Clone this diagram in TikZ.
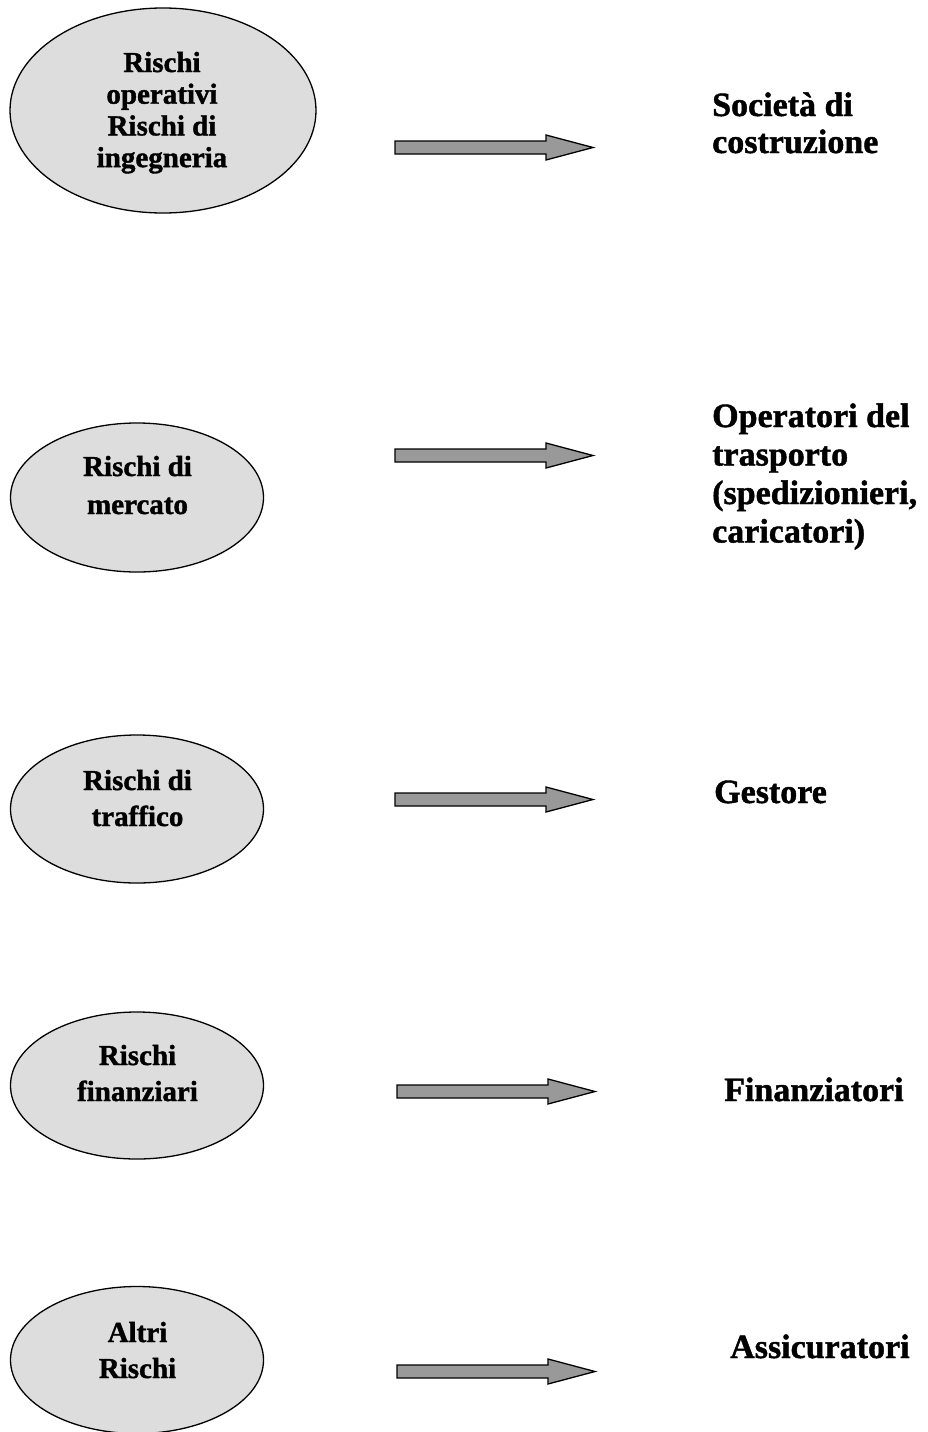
\documentclass[tikz,border=0pt]{standalone}
\usepackage{fontspec}
\setmainfont{Liberation Serif}[BoldFeatures={FakeBold=1.3}]
\definecolor{ellfill}{HTML}{DDDDDD}
\definecolor{arrfill}{HTML}{999999}
\tikzset{
  riskell/.style={ellipse, draw=black, line width=1.3pt, fill=ellfill, inner sep=0pt},
  risktext/.style={anchor=base, inner sep=0pt, font=\bfseries},
  partytext/.style={anchor=base west, inner sep=0pt, font=\bfseries\fontsize{34}{38.5}\selectfont},
  blockarrow/.pic={
    \draw[line width=1.3pt, fill=arrfill, line join=miter]
      (0,-6.5) -- (151,-6.5) -- (151,-12.5) -- (198,0) -- (151,12.5) -- (151,6.5) -- (0,6.5) -- cycle;
  }
}
\usetikzlibrary{shapes.geometric}
\newcommand{\lines}[1]{\begin{tabular}[t]{@{}c@{}}#1\end{tabular}}
\newcommand{\llines}[1]{\begin{tabular}[t]{@{}l@{}}#1\end{tabular}}
\begin{document}
\begin{tikzpicture}[x=1pt,y=-1pt]
\useasboundingbox (0,0) rectangle (927,1432);

% ellipses
\node[riskell, minimum width=306pt, minimum height=205pt] (e1) at (163,110.5) {};
\node[riskell, minimum width=253pt, minimum height=149pt] (e2) at (137,497.5) {};
\node[riskell, minimum width=253pt, minimum height=148pt] (e3) at (137,809) {};
\node[riskell, minimum width=253pt, minimum height=147pt] (e4) at (137,1085.5) {};
\node[riskell, minimum width=253pt, minimum height=147pt] (e5) at (137,1360) {};

% ellipse texts
\node[risktext, font=\bfseries\fontsize{29}{31.7}\selectfont] (t1) at (162,72)
  {\lines{Rischi\\operativi\\Rischi di\\ingegneria}};
\node[risktext, font=\bfseries\fontsize{29}{38}\selectfont] (t2) at (137.5,476)
  {\lines{Rischi di\\mercato}};
\node[risktext, font=\bfseries\fontsize{29}{36}\selectfont] (t3) at (137.5,790)
  {\lines{Rischi di\\traffico}};
\node[risktext, font=\bfseries\fontsize{29}{36}\selectfont] (t4) at (137.5,1065)
  {\lines{Rischi\\finanziari}};
\node[risktext, font=\bfseries\fontsize{29}{36}\selectfont] (t5) at (137.5,1342)
  {\lines{Altri\\Rischi}};

% arrows
\pic (a1) at (395,147.5) {blockarrow};
\pic (a2) at (395,455.5) {blockarrow};
\pic (a3) at (395,799.5) {blockarrow};
\pic (a4) at (397,1091.5) {blockarrow};
\pic (a5) at (397,1371.5) {blockarrow};

% parties
\node[partytext, font=\bfseries\fontsize{34}{37}\selectfont] (p1) at (712,116)
  {\llines{Società di\\costruzione}};
\node[partytext] (p2) at (712,427)
  {\llines{Operatori del\\trasporto\\(spedizionieri,\\caricatori)}};
\node[partytext] (p3) at (714,803) {Gestore};
\node[partytext] (p4) at (724,1101) {Finanziatori};
\node[partytext] (p5) at (730,1358) {Assicuratori};
\end{tikzpicture}
\end{document}
